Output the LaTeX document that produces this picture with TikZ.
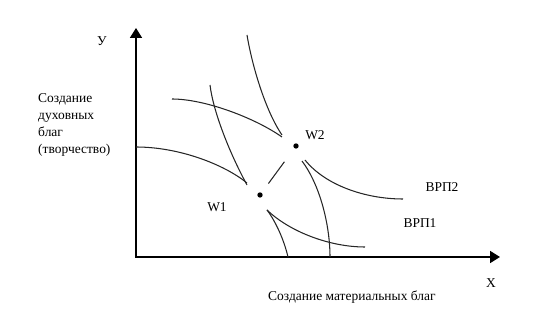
\documentclass[tikz,border=0pt]{standalone}
\usepackage{fontspec}
\setmainfont{Liberation Serif}
\usetikzlibrary{arrows.meta,positioning}
\tikzset{
  axisline/.style={{Triangle[length=3mm,width=3.6mm]}-{Triangle[length=3mm,width=3.6mm]},line width=1.5pt,draw=black},
  curveline/.style={line width=0.9pt,draw=black!85},
  wpoint/.style={circle,fill=black,inner sep=0pt,minimum size=1.6mm},
  plabel/.style={font=\fontsize{11.5}{14.5}\selectfont,inner sep=0pt}
}
\begin{document}
\begin{tikzpicture}[x=0.03cm,y=-0.03cm]
\useasboundingbox (0,0) rectangle (549,318);
\coordinate (ytop) at (136,28);
\coordinate (o) at (136,257);
\coordinate (xend) at (500,257);
\draw[axisline] (ytop) -- (o) -- (xend);
\node[wpoint] (w1) at (260,195) {};
\node[wpoint] (w2) at (296,146) {};
\node[plabel] (w1lbl) at (217,207) {W1};
\node[plabel] (w2lbl) at (315,135) {W2};
\node[plabel] (vrp2) at (442,187) {ВРП2};
\node[plabel] (vrp1) at (420,223) {ВРП1};
\node[plabel] (ylbl) at (102,41) {У};
\node[plabel] (xlbl) at (491,283) {X};
\node[plabel,anchor=west] (xtitle) at (268,297) {Создание материальных благ};
\node[plabel,align=left,anchor=north west] (ytitle) at (38,93) {Создание\\духовных\\благ\\(творчество)};
\draw[curveline] (136,147) .. controls (180,147) and (225,165) .. (247,183);
\draw[curveline] (267,210) .. controls (276,222) and (284,240) .. (288,257);
\draw[curveline] (172,99) .. controls (205,99) and (255,118) .. (282,137);
\draw[curveline] (302,161) .. controls (320,185) and (330,225) .. (330,257);
\draw[curveline] (210,85) .. controls (213,110) and (228,150) .. (247,185);
\draw[curveline] (267,210) .. controls (290,232) and (330,247) .. (365,247);
\draw[curveline] (247,35) .. controls (252,65) and (265,110) .. (282,135);
\draw[curveline] (305,160) .. controls (325,185) and (365,199) .. (403,199);
\draw[curveline,shorten <=0.34cm,shorten >=0.5cm] (w1) -- (w2);
\end{tikzpicture}
\end{document}
